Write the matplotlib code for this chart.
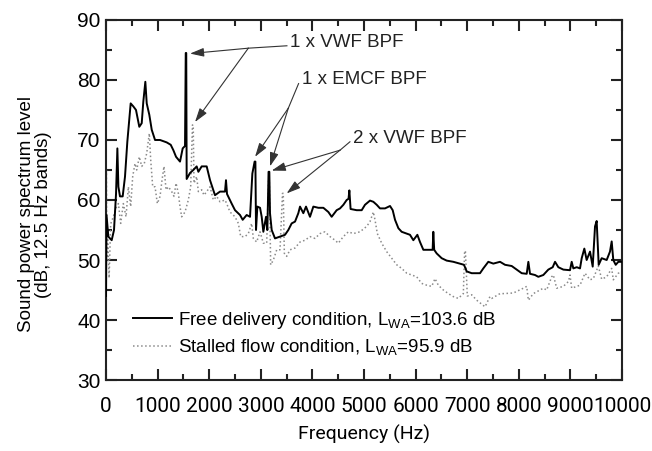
import matplotlib
matplotlib.use('Agg')
import matplotlib.pyplot as plt
import numpy as np
from matplotlib.lines import Line2D

plt.rcParams['font.family'] = ['Liberation Sans', 'DejaVu Sans']
plt.rcParams['mathtext.fontset'] = 'custom'
plt.rcParams['mathtext.rm'] = 'Liberation Sans'

# Free delivery condition (solid)
freq_free = [0, 10, 45, 110, 155, 194, 220, 240, 271, 323, 368, 413, 478, 529, 581, 645, 692, 723, 762, 789,
             839, 886, 950, 1047, 1176, 1254, 1305, 1357, 1434, 1486, 1531, 1545, 1555, 1563, 1628, 1692, 1757,
             1790, 1854, 1951, 2016, 2112, 2209, 2306, 2325, 2345, 2435, 2500, 2597, 2649, 2726, 2791, 2836,
             2880, 2895, 2907, 2933, 2985, 3017, 3049, 3101, 3127, 3150, 3165, 3178, 3211, 3275, 3372, 3469,
             3533, 3598, 3663, 3727, 3760, 3824, 3876, 3953, 4018, 4115, 4212, 4309, 4373, 4470, 4535, 4600,
             4664, 4700, 4716, 4740, 4858, 4955, 5019, 5116, 5181, 5246, 5310, 5407, 5504, 5556, 5601, 5666,
             5730, 5828, 5891, 5956, 6034, 6085, 6150, 6246, 6330, 6343, 6360, 6408, 6505, 6602, 6731, 6860,
             6938, 6990, 7087, 7248, 7312, 7409, 7506, 7636, 7733, 7862, 7959, 8056, 8153, 8185, 8217, 8314,
             8378, 8475, 8572, 8657, 8702, 8766, 8863, 8992, 9025, 9057, 9122, 9186, 9219, 9270, 9315, 9380,
             9432, 9477, 9509, 9548, 9606, 9703, 9767, 9800, 9831, 9878, 9929, 10000]
level_free = [44, 57.5, 53.9, 53.3, 55, 61, 68.6, 62.2, 60.6, 60.6, 63.9, 69.7, 76.1, 75.6, 75, 72.2, 72.8, 76.4,
              79.7, 76.1, 74.2, 71.7, 70, 70, 69.6, 69.2, 68.3, 67.2, 66.4, 68.6, 69, 84.5, 84.5, 63.5, 64.5,
              65, 65.6, 64.7, 65.6, 65.6, 63.3, 60.8, 61.4, 61.4, 63.3, 61, 59.4, 58.3, 57.5, 56.7, 57.5, 57.2,
              64.4, 66.4, 66.4, 55, 58.9, 58.7, 57.2, 54.7, 57.2, 55, 64.7, 64.7, 57.8, 55, 53.6, 53.9, 54.2,
              55, 56.1, 56.4, 57.8, 58.9, 57.8, 58.9, 57.2, 58.9, 58.7, 58.7, 58, 57.2, 58.3, 58.6, 59.2, 60,
              60.2, 61.6, 58.5, 58.3, 58.3, 59.2, 59.9, 59.7, 59.2, 58.6, 58.6, 59, 58.3, 56.7, 55.3, 54.7, 54.4,
              54.2, 53.3, 54.2, 53, 51.7, 51.7, 51.7, 54.7, 51.7, 51.1, 50.3, 49.9, 49.7, 49.4, 49.2, 48.1,
              47.8, 47.8, 48.6, 49.7, 49.4, 49.7, 49.2, 49, 48.4, 47.8, 47.7, 49.7, 47.7, 47.5, 47.2, 47.5,
              48.4, 48.8, 49.7, 48.8, 48.4, 48.3, 49.7, 48.6, 48.8, 48.6, 50.3, 51.9, 50, 51.4, 48.9, 55.6,
              56.5, 49.2, 50.3, 50, 51.4, 53.1, 50, 49.2, 49.7, 49.7]

# Stalled flow condition (dotted)
freq_stall = [0, 8, 15, 30, 60, 90, 141, 190, 240, 284, 336, 388, 433, 478, 517, 562, 595, 645, 692, 742, 789,
              839, 866, 905, 950, 995, 1047, 1085, 1124, 1163, 1209, 1273, 1318, 1357, 1402, 1434, 1466, 1531,
              1595, 1641, 1675, 1690, 1705, 1757, 1789, 1854, 1899, 1951, 2016, 2080, 2145, 2209, 2306, 2339,
              2403, 2500, 2565, 2610, 2694, 2758, 2823, 2855, 2920, 2985, 3049, 3114, 3150, 3165, 3191, 3243,
              3308, 3372, 3420, 3435, 3456, 3501, 3566, 3663, 3760, 3857, 3953, 4050, 4147, 4244, 4341, 4438,
              4502, 4599, 4697, 4793, 4922, 5052, 5116, 5181, 5213, 5258, 5343, 5439, 5537, 5634, 5730, 5828,
              5924, 6021, 6118, 6215, 6312, 6376, 6440, 6537, 6634, 6731, 6828, 6925, 6950, 6965, 7002, 7087,
              7184, 7345, 7441, 7475, 7636, 7700, 7894, 8088, 8153, 8185, 8282, 8475, 8540, 8637, 8669, 8734,
              8863, 8960, 8992, 9025, 9186, 9283, 9380, 9444, 9541, 9606, 9703, 9800, 9831, 9929, 10000]
level_stall = [38, 65, 50, 55, 47, 56, 57.2, 58.6, 59.4, 56.1, 59.4, 57.2, 62.2, 58.9, 63.9, 66.1, 65, 67.2,
               65.6, 66.1, 67.8, 71.1, 66.7, 62.2, 62.2, 59.4, 60.6, 63.3, 65.6, 61.7, 62.2, 61.4, 60.6, 62.8,
               61.1, 58.9, 57.2, 58, 60, 62.2, 72.5, 72.5, 62.8, 63.9, 61.4, 61.7, 60.8, 61.4, 62.2, 60, 60.6,
               59.7, 60, 59.4, 58, 57.2, 56.1, 53.9, 53.9, 54.4, 56.1, 53.6, 53, 54.7, 52.8, 52.8, 63.3, 63,
               49.2, 50, 51.7, 51.7, 61.1, 61.1, 51.1, 50.6, 51.7, 52, 53, 53.3, 53.9, 53.6, 54.4, 54.7, 53.9,
               53.3, 52.8, 53.9, 54.7, 54.4, 54.7, 55.6, 56.4, 58, 56.7, 54.4, 52.8, 51.4, 50.3, 49.2, 48.6,
               47.8, 47.5, 47.2, 46.1, 45.8, 45.6, 46.9, 45.8, 45, 44.4, 43.9, 43.6, 44.4, 51.5, 51.5, 44, 44.2,
               43.3, 42.2, 43.9, 43.6, 44.4, 44.4, 44.5, 45.3, 45.6, 43.3, 44.4, 45.3, 45, 47.2, 47.5, 45.3,
               45.6, 46.4, 47.5, 45.3, 45.8, 47.8, 46.7, 46.9, 49, 46.8, 47.2, 48.6, 46.7, 47.8, 48]

label_free = 'Free delivery condition, L$_{\\mathrm{WA}}$=103.6 dB'
label_stall = 'Stalled flow condition, L$_{\\mathrm{WA}}$=95.9 dB'

fig = plt.figure(figsize=(6.52, 4.51), dpi=100)
ax = fig.add_axes([0.1626, 0.1574, 0.7914, 0.7983])

ax.plot(freq_stall, level_stall, color='#8a8a8a', lw=1.1, ls=':', zorder=2)
ax.plot(freq_free, level_free, color='black', lw=1.4, zorder=3)

ax.set_xlim(0, 10000)
ax.set_ylim(30, 90)
ax.set_xticks(np.arange(0, 10001, 1000))
ax.set_xticks(np.arange(500, 10000, 1000), minor=True)
ax.set_yticks(np.arange(30, 91, 10))
ax.set_yticks(np.arange(35, 90, 10), minor=True)
ax.tick_params(which='both', direction='in', top=True, right=True, width=1.5, color='#222222')
ax.tick_params(which='major', length=8)
ax.tick_params(which='minor', length=4.5)
ax.tick_params(axis='y', labelsize=15, pad=4)
ax.tick_params(axis='x', labelsize=15, pad=12)
for lbl in ax.get_xticklabels():
    lbl.set_family('Roboto')
for sp in ax.spines.values():
    sp.set_linewidth(1.5)
    sp.set_color('#222222')

ax.set_xlabel('Frequency (Hz)', fontsize=14, family='Roboto')
ax.xaxis.set_label_coords(0.5, -0.125)
ax.set_ylabel('Sound power spectrum level\n(dB, 12.5 Hz bands)', fontsize=13.5, linespacing=0.95)
ax.yaxis.set_label_coords(-0.105, 0.46)

# annotations: (text, text pos, junction, arrow heads)
arrow_kw = dict(arrowstyle='-|>,head_length=0.7,head_width=0.22', color='#333333', lw=0.8,
                shrinkA=0, shrinkB=0, mutation_scale=12)
notes = [
    ('1 x VWF BPF', (3566, 86.3), (2758, 85.3), [(1628, 84.4), (1725, 73.0)]),
    ('1 x EMCF BPF', (3792, 80.0), (3533, 75.3), [(2888, 67.2), (3178, 65.6)]),
    ('2 x VWF BPF', (4787, 70.3), (4535, 68.3), [(3211, 64.9), (3501, 61.1)]),
]
for txt, tpos, junc, heads in notes:
    ax.text(tpos[0], tpos[1], txt, fontsize=13.5, ha='left', va='center', color='#222222')
    ax.plot([junc[0], tpos[0] - 60], [junc[1], tpos[1] - 0.6], color='#333333', lw=0.8)
    for h in heads:
        ax.annotate('', xy=h, xytext=junc, arrowprops=arrow_kw)

handles = [Line2D([], [], color='black', lw=1.4),
           Line2D([], [], color='#8a8a8a', lw=1.1, ls=':')]
ax.legend(handles, [label_free, label_stall], loc='upper left', bbox_to_anchor=(0.052, 0.195),
          frameon=False, fontsize=13.5, handlelength=2.1, handletextpad=0.32, borderpad=0,
          borderaxespad=0, labelspacing=0.35)

fig.savefig('out.png', dpi=100)
